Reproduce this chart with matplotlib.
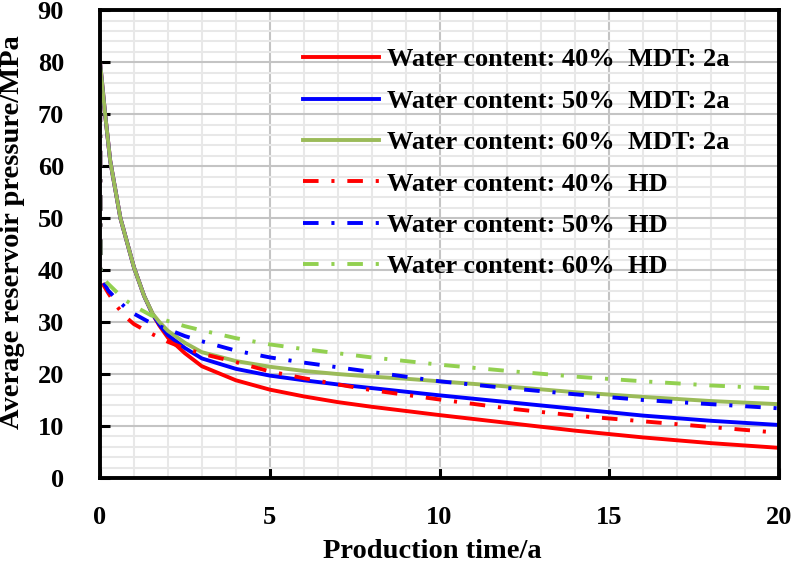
import numpy as np
import matplotlib
matplotlib.use("Agg")
import matplotlib.pyplot as plt
from matplotlib.ticker import MultipleLocator

# ----------------------
# data
# ----------------------
t_mdt = [0, 0.15, 0.3, 0.6, 1.0, 1.3, 1.55, 1.75, 2.0, 2.5, 3, 4, 5, 6, 7, 8, 9, 10, 12, 14, 16, 18, 20]
p_mdt_40 = [80, 70, 61, 50, 40.5, 35, 31.5, 29.3, 27.0, 24.0, 21.5, 18.8, 17.0, 15.7, 14.6, 13.7, 12.9, 12.1, 10.6, 9.1, 7.8, 6.7, 5.8]
p_mdt_50 = [80, 70, 61, 50, 40.5, 35, 31.5, 29.5, 27.5, 25.0, 23.0, 21.0, 19.7, 18.8, 18.0, 17.3, 16.6, 15.9, 14.6, 13.3, 12.0, 11.0, 10.2]
p_mdt_60 = [80, 70, 61, 50, 40.5, 35, 31.6, 30.0, 28.3, 26.0, 24.2, 22.5, 21.4, 20.6, 20.0, 19.5, 19.1, 18.6, 17.6, 16.5, 15.6, 14.8, 14.2]

t_hd = [0, 0.02, 0.25, 0.5, 0.75, 1.0, 1.5, 2, 2.5, 3, 4, 5, 6, 7, 8, 9, 10, 12, 14, 16, 18, 20]
p_hd_40 = [80, 38.0, 35.5, 33.0, 31.0, 29.6, 27.8, 26.2, 24.9, 23.9, 22.3, 20.5, 19.2, 18.0, 16.9, 16.0, 15.1, 13.4, 12.0, 10.9, 9.8, 8.7]
p_hd_50 = [80, 38.5, 36.0, 34.3, 32.8, 31.6, 29.8, 28.6, 27.3, 26.3, 24.5, 23.2, 22.2, 21.3, 20.4, 19.5, 18.6, 17.3, 16.1, 15.0, 14.2, 13.4]
p_hd_60 = [80, 38.8, 37.3, 35.7, 34.2, 33.1, 31.3, 30.2, 29.2, 28.4, 26.9, 25.7, 24.8, 24.0, 23.2, 22.5, 21.8, 20.6, 19.5, 18.6, 17.8, 17.2]

labels = ["Water content: 40%  MDT: 2a", "Water content: 50%  MDT: 2a", "Water content: 60%  MDT: 2a",
          "Water content: 40%  HD", "Water content: 50%  HD", "Water content: 60%  HD"]

plt.rcParams['font.family'] = ['Liberation Serif', 'DejaVu Serif']
plt.rcParams['font.weight'] = 'bold'

fig = plt.figure(figsize=(7.92, 5.65), dpi=100)
ax = fig.add_axes([0.1263, 0.154, 0.8573, 0.828])

lw = 2.8
dd = (4, 3.3, 0.8, 3.3)
ax.plot(t_mdt, p_mdt_40, color='#FF0000', lw=lw, label=labels[0])
ax.plot(t_mdt, p_mdt_50, color='#0000FF', lw=lw, label=labels[1])
ax.plot(t_mdt, p_mdt_60, color='#9BBB59', lw=lw, label=labels[2])
ax.plot(t_hd, p_hd_40, color='#FF0000', lw=lw, dashes=dd, label=labels[3])
ax.plot(t_hd, p_hd_50, color='#0000FF', lw=lw, dashes=dd, label=labels[4])
ax.plot(t_hd, p_hd_60, color='#92D050', lw=lw, dashes=dd, label=labels[5])

ax.set_xlim(0, 20)
ax.set_ylim(0, 90)
ax.xaxis.set_major_locator(MultipleLocator(5))
ax.xaxis.set_minor_locator(MultipleLocator(1))
ax.yaxis.set_major_locator(MultipleLocator(10))
ax.yaxis.set_minor_locator(MultipleLocator(2))

ax.grid(which='major', color='#C4C4C4', lw=1.5)
ax.grid(which='minor', color='#E8E8E8', lw=1.5)
ax.set_axisbelow(True)

for s in ax.spines.values():
    s.set_linewidth(2.8)
    s.set_color('black')

ax.tick_params(which='major', direction='in', length=7, width=2.2, labelsize=19)
ax.tick_params(which='minor', length=0)
ax.tick_params(axis='x', pad=20)
ax.tick_params(axis='y', pad=26)

ax.set_xlabel("Production time/a", fontsize=20.5, fontweight='bold')
ax.set_ylabel("Average reservoir pressure/MPa", fontsize=20.5, fontweight='bold')
ax.xaxis.set_label_coords(0.49, -0.13)
ax.yaxis.set_label_coords(-0.11, 0.525)

leg = ax.legend(loc='upper left', bbox_to_anchor=(0.283, 0.942), frameon=False,
                fontsize=19, handlelength=2.9, handletextpad=0.3, labelspacing=0.68,
                borderaxespad=0)

fig.savefig("out.png", dpi=100)
